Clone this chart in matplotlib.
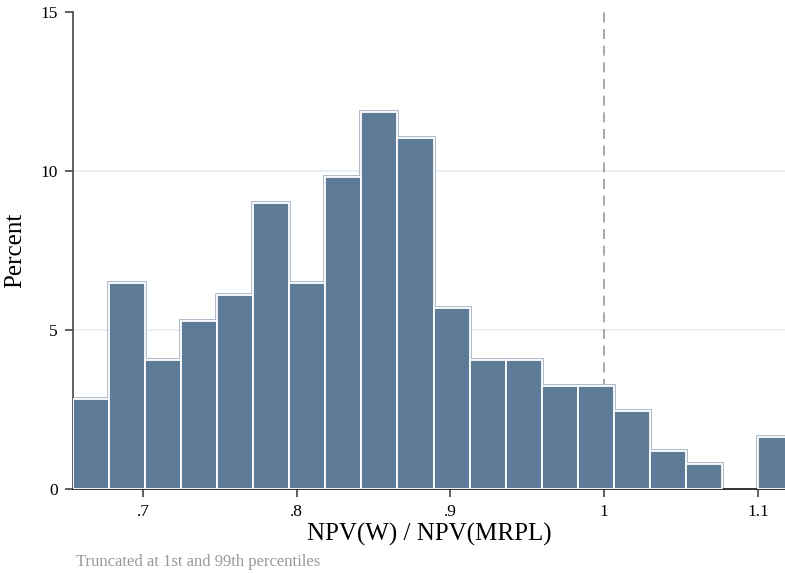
import matplotlib
matplotlib.use("Agg")
import matplotlib.pyplot as plt
import numpy as np

# Histogram of NPV ratio (percent of observations per bin)
bin_start = 0.6545
bin_width = 0.02345
percent = [2.83, 6.48, 4.06, 5.28, 6.10, 8.99, 6.48, 9.81, 11.86, 11.04,
           5.69, 4.06, 4.06, 3.24, 3.24, 2.45, 1.19, 0.79, 0.0, 1.64]
x_ticks = [0.7, 0.8, 0.9, 1.0, 1.1]
x_tick_labels = [".7", ".8", ".9", "1", "1.1"]
y_ticks = [0, 5, 10, 15]
ref_line = 1.0

plt.rcParams['font.family'] = ['Liberation Serif', 'DejaVu Serif']

fig = plt.figure(figsize=(7.85, 5.73), dpi=100)
ax = fig.add_axes([73/785, 1 - 489/573, 1 - 73/785, (489 - 12)/573])

lefts = bin_start + bin_width * np.arange(len(percent))
heights = np.array(percent)
fill = '#5d7b97'
# empty bins get no outline
outer_lw = np.where(heights > 0, 2.6, 0.0)
inner_lw = np.where(heights > 0, 1.3, 0.0)
ax.bar(lefts, heights, width=bin_width, align='edge', color=fill,
       edgecolor='#9fb0c2', linewidth=outer_lw, zorder=2)
ax.bar(lefts, heights, width=bin_width, align='edge', color=fill,
       edgecolor='white', linewidth=inner_lw, zorder=3)

for g in [5, 10]:
    ax.axhline(g, color='#e4eff3', linewidth=1.2, zorder=0)
ax.axvline(ref_line, color='#9a9a9a', linewidth=1.2, linestyle=(0, (6, 4)), zorder=1)

ax.set_xlim(0.6545, 1.1176)
ax.set_ylim(0, 15)
ax.set_xticks(x_ticks)
ax.set_xticklabels(x_tick_labels)
ax.set_yticks(y_ticks)
for s in ['top', 'right']:
    ax.spines[s].set_visible(False)
ax.spines['left'].set_color('#555555')
ax.spines['left'].set_linewidth(1.3)
ax.spines['bottom'].set_color('#222222')
ax.spines['bottom'].set_linewidth(1.3)
ax.tick_params(axis='both', length=6, width=1.3, color='#555555', labelsize=12.5, pad=5)
ax.set_ylabel('Percent', fontsize=18, labelpad=10)
ax.set_xlabel('NPV(W) / NPV(MRPL)', fontsize=18, labelpad=2)

fig.text(76/785, 1 - 562/573, 'Truncated at 1st and 99th percentiles',
         fontsize=12, color='#999999', va='center', ha='left')

fig.savefig('out.png', dpi=100)
